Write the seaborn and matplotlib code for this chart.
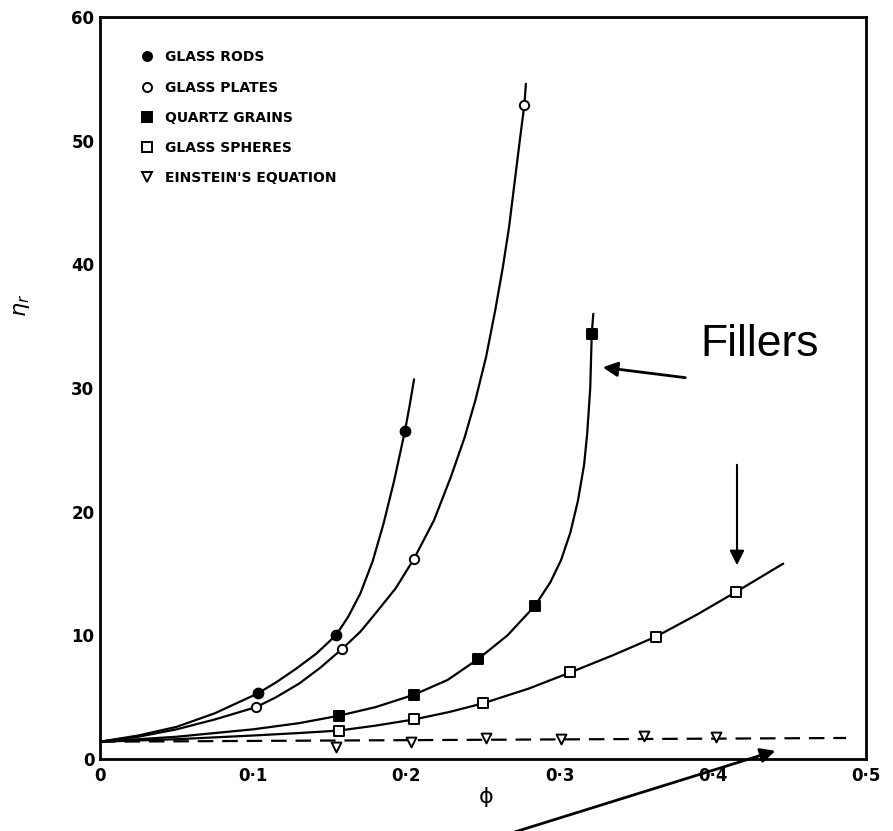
import numpy as np
import pandas as pd
import matplotlib
matplotlib.use("Agg")
import matplotlib.pyplot as plt
import seaborn as sns
from matplotlib.lines import Line2D

sns.set_theme(style="white")
plt.rcParams['font.family'] = ['DejaVu Sans']
plt.rcParams['text.color'] = 'black'
plt.rcParams['xtick.color'] = 'black'
plt.rcParams['ytick.color'] = 'black'
plt.rcParams['xtick.labelcolor'] = 'black'
plt.rcParams['ytick.labelcolor'] = 'black'

# ---- measured points (markers) ----
rods_x = [0.103, 0.154, 0.199]
rods_y = [5.3, 10.0, 26.5]
plates_x = [0.102, 0.158, 0.205, 0.277]
plates_y = [4.2, 8.9, 16.2, 52.9]
quartz_x = [0.156, 0.205, 0.247, 0.284, 0.321]
quartz_y = [3.5, 5.2, 8.1, 12.4, 34.4]
spheres_x = [0.156, 0.205, 0.250, 0.307, 0.363, 0.415]
spheres_y = [2.3, 3.2, 4.5, 7.0, 9.9, 13.5]
einstein_x = [0.154, 0.203, 0.252, 0.301, 0.355, 0.402]
einstein_y = [1.0, 1.4, 1.7, 1.6, 1.9, 1.8]

# ---- fitted curves ----
rods_cx = [0.0, 0.025, 0.05, 0.075, 0.103, 0.115, 0.128, 0.141, 0.154, 0.162, 0.170, 0.178,
           0.185, 0.192, 0.199, 0.202, 0.205]
rods_cy = [1.4, 1.9, 2.6, 3.7, 5.3, 6.2, 7.3, 8.5, 10.0, 11.5, 13.4, 16.0,
           19.0, 22.5, 26.5, 28.5, 30.7]
plates_cx = [0.0, 0.025, 0.05, 0.075, 0.102, 0.115, 0.13, 0.144, 0.158, 0.17, 0.18, 0.193,
             0.205, 0.218, 0.229, 0.238, 0.245, 0.252, 0.258, 0.263, 0.267, 0.271, 0.274,
             0.277, 0.278]
plates_cy = [1.4, 1.8, 2.4, 3.2, 4.2, 5.0, 6.1, 7.4, 8.9, 10.3, 11.8, 13.8,
             16.2, 19.3, 22.8, 26.0, 29.0, 32.5, 36.3, 39.8, 43.0, 47.0, 50.0,
             52.9, 54.6]
quartz_cx = [0.0, 0.05, 0.1, 0.13, 0.156, 0.18, 0.205, 0.227, 0.247, 0.266, 0.284, 0.294,
             0.301, 0.307, 0.312, 0.316, 0.318, 0.320, 0.321, 0.322]
quartz_cy = [1.4, 1.8, 2.4, 2.9, 3.5, 4.2, 5.2, 6.4, 8.1, 10.0, 12.4, 14.3,
             16.1, 18.3, 20.9, 23.8, 26.3, 30.0, 34.4, 36.0]
spheres_cx = [0.0, 0.05, 0.1, 0.13, 0.156, 0.18, 0.205, 0.228, 0.250, 0.28, 0.307, 0.335,
              0.363, 0.39, 0.415, 0.446]
spheres_cy = [1.4, 1.6, 1.9, 2.1, 2.3, 2.7, 3.2, 3.8, 4.5, 5.7, 7.0, 8.4,
              9.9, 11.7, 13.5, 15.8]
einstein_cx = [0.0, 0.487]
einstein_cy = [1.4, 1.7]

legend_labels = ["GLASS RODS", "GLASS PLATES", "QUARTZ GRAINS", "GLASS SPHERES", "EINSTEIN'S EQUATION"]
x_ticks = [0.0, 0.1, 0.2, 0.3, 0.4, 0.5]
x_ticklabels = ["0", "0·1", "0·2", "0·3", "0·4", "0·5"]
y_ticks = [0, 10, 20, 30, 40, 50, 60]
y_ticklabels = ["0", "10", "20", "30", "40", "50", "60"]

W, H = 893, 831
fig = plt.figure(figsize=(W / 100, H / 100), dpi=100)
ax = fig.add_axes([100 / W, 1 - 759 / H, 766 / W, 742 / H])

lw = 1.6
for cx, cy in [(rods_cx, rods_cy), (plates_cx, plates_cy), (quartz_cx, quartz_cy), (spheres_cx, spheres_cy)]:
    df = pd.DataFrame({"phi": cx, "eta": cy})
    sns.lineplot(data=df, x="phi", y="eta", ax=ax, color="black", lw=lw, sort=False, estimator=None)
dfe = pd.DataFrame({"phi": einstein_cx, "eta": einstein_cy})
sns.lineplot(data=dfe, x="phi", y="eta", ax=ax, color="black", lw=lw, dashes=False,
             linestyle=(0, (7, 4)), estimator=None)

specs = [
    (rods_x, rods_y, "o", "black", 50),
    (plates_x, plates_y, "o", "white", 45),
    (quartz_x, quartz_y, "s", "black", 55),
    (spheres_x, spheres_y, "s", "white", 50),
    (einstein_x, einstein_y, "v", "white", 50),
]
for xs, ys, m, fc, s in specs:
    dfm = pd.DataFrame({"phi": xs, "eta": ys})
    sns.scatterplot(data=dfm, x="phi", y="eta", ax=ax, marker=m, s=s, facecolor=fc,
                    edgecolor="black", linewidth=1.4, zorder=5)

ax.set_xlim(0, 0.5)
ax.set_ylim(0, 60)
ax.set_xticks(x_ticks)
ax.set_xticklabels(x_ticklabels, fontsize=12, fontweight="bold", color="black")
ax.set_yticks(y_ticks)
ax.set_yticklabels(y_ticklabels, fontsize=12, fontweight="bold", color="black")
ax.tick_params(axis="both", direction="in", length=8, width=2, color="black", pad=4)
ax.tick_params(axis="x", pad=6)
for sp in ax.spines.values():
    sp.set_color("black")
    sp.set_linewidth(2)
ax.set_xlabel("")
ax.set_ylabel("")

fig.text(22 / W, 1 - 305 / H, r"$\eta_r$", rotation=90, ha="center", va="center", fontsize=16,
         color="black")
fig.text(486 / W, 1 - 797 / H, "ϕ", ha="center", va="center", fontsize=16, color="black")

handles = [Line2D([], [], marker=m, linestyle="none", markerfacecolor=fc, markeredgecolor="black",
                  markeredgewidth=1.4, markersize=6.5, color="black")
           for _, _, m, fc, _ in specs]
leg = ax.legend(handles, legend_labels, loc="upper left", bbox_to_anchor=(0.04, 0.972),
                frameon=False, handlelength=0.6, handletextpad=1.0, labelspacing=1.17,
                prop={"weight": "bold", "size": 10})
for t in leg.get_texts():
    t.set_color("black")

# annotations
def fp(x, y):
    return (x, H - y)

ax.annotate("", xy=fp(600, 367), xytext=fp(688, 378), xycoords="figure pixels",
            textcoords="figure pixels",
            arrowprops=dict(arrowstyle="-|>", mutation_scale=22, lw=2, color="black"))
ax.annotate("", xy=fp(737, 568), xytext=fp(737, 462), xycoords="figure pixels",
            textcoords="figure pixels",
            arrowprops=dict(arrowstyle="-|>", mutation_scale=22, lw=1.5, color="black"))
ax.annotate("", xy=fp(778, 750), xytext=fp(505, 835), xycoords="figure pixels",
            textcoords="figure pixels", annotation_clip=False,
            arrowprops=dict(arrowstyle="-|>", mutation_scale=22, lw=2, color="black"))
fig.text(760 / W, 1 - 345 / H, "Fillers", ha="center", va="center", fontsize=32,
         family="Liberation Sans", color="black")

fig.savefig("out.png", dpi=100)
